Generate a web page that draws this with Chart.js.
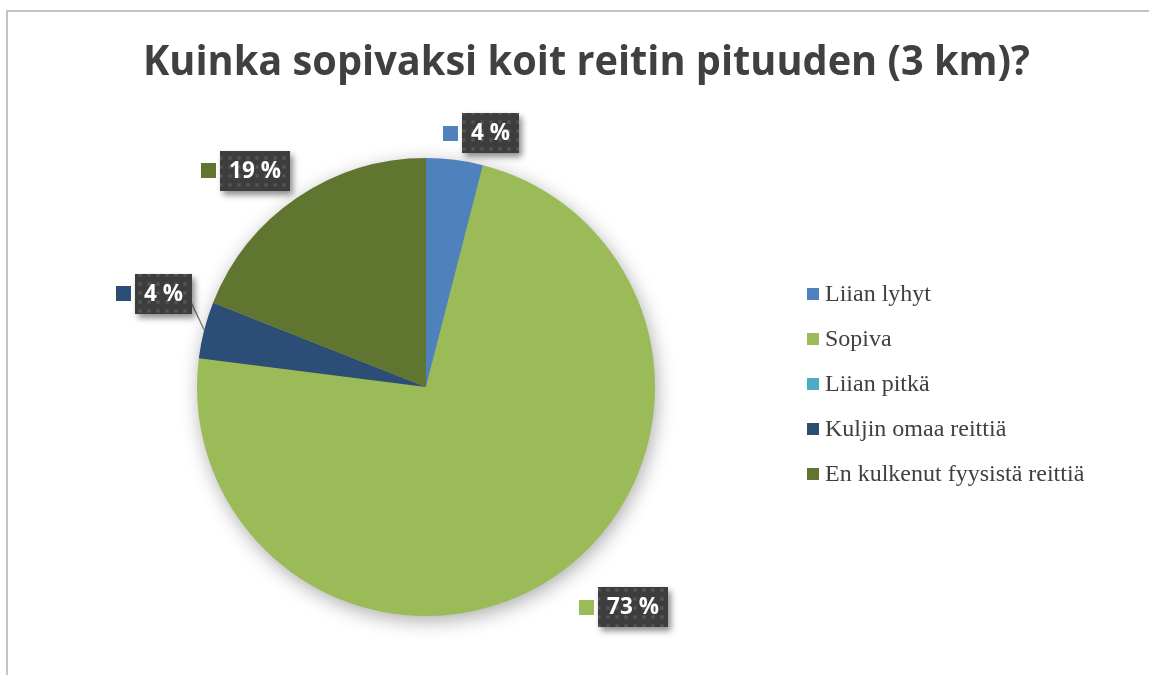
<!DOCTYPE html>
<html><head><meta charset="utf-8">
<script src="https://cdn.jsdelivr.net/npm/chart.js@4.4.1/dist/chart.umd.min.js"></script>
<style>html,body{margin:0;padding:0;background:#fff;overflow:hidden}canvas{display:block}</style>
</head><body>
<canvas id="c" width="1149" height="675"></canvas>
<script>
const titleText = 'Kuinka sopivaksi koit reitin pituuden (3 km)?';
const categories = ['Liian lyhyt', 'Sopiva', 'Liian pitkä', 'Kuljin omaa reittiä', 'En kulkenut fyysistä reittiä'];
const percentValues = [4, 73, 0, 4, 19];
const sliceColors = ['#4F81BD', '#9BBB59', '#4BACC6', '#2C4D75', '#5F7530'];

// label placement tweaks (relative to anchor at 1.2 x radius along slice mid-angle)
const labelNudges = [[21, 19], [43, -7], [0, 0], [-6, -25], [-26, 11]];
const labelLeader = [false, false, false, true, false];

function makePattern(ctx) {
  const p = document.createElement('canvas');
  p.width = 9; p.height = 9;
  const g = p.getContext('2d');
  g.fillStyle = '#3d3d3d'; g.fillRect(0, 0, 9, 9);
  g.fillStyle = '#4a4a4a'; g.fillRect(3, 3, 4, 4);
  g.fillStyle = '#575757'; g.fillRect(4, 4, 2, 2);
  return ctx.createPattern(p, 'repeat');
}

const decorPlugin = {
  id: 'decor',
  beforeDraw(chart) {
    const ctx = chart.ctx;
    ctx.save();
    ctx.fillStyle = '#fff';
    ctx.fillRect(0, 0, chart.width, chart.height);
    ctx.strokeStyle = '#c4c4c4';
    ctx.lineWidth = 2;
    ctx.strokeRect(7, 11, 1300, 800);
    // title
    ctx.font = 'bold 42px "Open Sans"';
    const w = ctx.measureText(titleText).width;
    const sx = 887 / w;
    ctx.translate(586.5, 75);
    ctx.scale(sx, 1);
    ctx.fillStyle = '#404040';
    ctx.textAlign = 'center';
    ctx.textBaseline = 'alphabetic';
    ctx.fillText(titleText, 0, 0);
    ctx.restore();
  },
  beforeDatasetsDraw(chart) {
    const ctx = chart.ctx;
    const arc = chart.getDatasetMeta(0).data[0];
    if (!arc) return;
    ctx.save();
    ctx.shadowColor = 'rgba(0,0,0,0.35)';
    ctx.shadowBlur = 20;
    ctx.shadowOffsetX = 2;
    ctx.shadowOffsetY = 5;
    ctx.fillStyle = '#9BBB59';
    ctx.beginPath();
    ctx.arc(arc.x, arc.y, arc.outerRadius - 1, 0, Math.PI * 2);
    ctx.fill();
    ctx.restore();
  },
  afterDraw(chart) {
    const ctx = chart.ctx;
    const meta = chart.getDatasetMeta(0);
    const data = chart.data.datasets[0].data;
    const colors = chart.data.datasets[0].backgroundColor;
    const pattern = makePattern(ctx);
    ctx.save();
    ctx.font = 'bold 22.5px "Open Sans"';
    meta.data.forEach((arc, i) => {
      if (!data[i]) return;
      const mid = (arc.startAngle + arc.endAngle) / 2;
      const r = arc.outerRadius;
      const ax = arc.x + Math.cos(mid) * r * 1.2 + labelNudges[i][0];
      const ay = arc.y + Math.sin(mid) * r * 1.2 + labelNudges[i][1];
      const txt = data[i] + ' %';
      const tw = ctx.measureText(txt).width;
      const boxW = Math.round(tw + 18), boxH = 40, sq = 15, gap = 4;
      const unitW = sq + gap + boxW;
      const left = Math.round(ax - unitW / 2);
      const top = Math.round(ay - boxH / 2);
      const bx = left + sq + gap;
      if (labelLeader[i]) {
        ctx.save();
        ctx.strokeStyle = '#7f7f7f';
        ctx.lineWidth = 1.5;
        ctx.beginPath();
        ctx.moveTo(bx + boxW - 2, top + 26);
        ctx.lineTo(arc.x + Math.cos(mid) * r, arc.y + Math.sin(mid) * r);
        ctx.stroke();
        ctx.restore();
      }
      ctx.save();
      ctx.shadowColor = 'rgba(0,0,0,0.45)';
      ctx.shadowBlur = 6;
      ctx.shadowOffsetX = 3;
      ctx.shadowOffsetY = 4;
      ctx.fillStyle = pattern;
      ctx.fillRect(bx, top, boxW, boxH);
      ctx.restore();
      ctx.fillStyle = colors[i];
      ctx.fillRect(left, Math.round(ay - sq / 2), sq, sq);
      ctx.fillStyle = '#ffffff';
      ctx.textAlign = 'center';
      ctx.textBaseline = 'middle';
      ctx.fillText(txt, bx + boxW / 2, top + boxH / 2 + 1);
    });
    // legend
    ctx.font = '24px "Liberation Serif"';
    ctx.textAlign = 'left';
    ctx.textBaseline = 'alphabetic';
    chart.data.labels.forEach((lab, i) => {
      const base = 301 + i * 45;
      ctx.fillStyle = colors[i];
      ctx.fillRect(807, base - 13, 12, 12);
      ctx.fillStyle = '#404040';
      ctx.fillText(lab, 825, base);
    });
    ctx.restore();
  }
};

new Chart(document.getElementById('c'), {
  type: 'pie',
  data: {
    labels: categories,
    datasets: [{
      data: percentValues,
      backgroundColor: sliceColors,
      borderWidth: 0
    }]
  },
  options: {
    responsive: false,
    animation: false,
    devicePixelRatio: 1,
    layout: { padding: { left: 197, right: 494, top: 158, bottom: 59 } },
    plugins: {
      legend: { display: false },
      title: { display: false },
      tooltip: { enabled: false }
    }
  },
  plugins: [decorPlugin]
});
</script>
</body></html>
